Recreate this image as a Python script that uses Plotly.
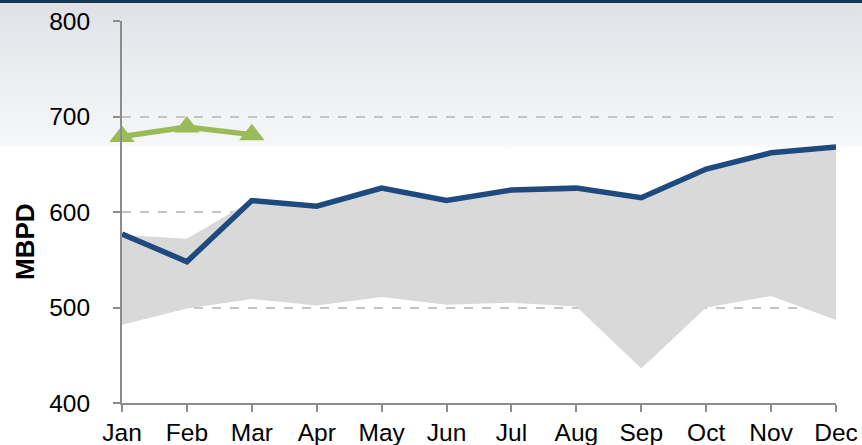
import plotly.graph_objects as go
import urllib.parse

months = ["Jan", "Feb", "Mar", "Apr", "May", "Jun", "Jul", "Aug", "Sep", "Oct", "Nov", "Dec"]
current = [577, 548, 612, 606, 625, 612, 623, 625, 615, 645, 662, 668]
next_year = [679, 689, 681]
range_high = [576, 572, 612, 606, 625, 612, 623, 625, 615, 645, 662, 668]
range_low = [482, 499, 509, 502, 511, 503, 505, 501, 436, 500, 512, 487]
y_ticks = [400, 500, 600, 700, 800]

W, H = 862, 445
L, R, T, B = 122, 26, 21, 42
pw, ph = W - L - R, H - T - B

# background: thin navy strip at top, light grey fading to white
svg = (
    '<svg xmlns="http://www.w3.org/2000/svg" width="862" height="445" preserveAspectRatio="none">'
    '<defs><linearGradient id="g" x1="0" y1="0" x2="0" y2="1">'
    '<stop offset="0" stop-color="#dde1e5"/>'
    '<stop offset="0.15" stop-color="#eaedf0"/>'
    '<stop offset="0.32" stop-color="#f5f6f7"/>'
    '<stop offset="0.335" stop-color="#ffffff"/>'
    '<stop offset="1" stop-color="#ffffff"/>'
    '</linearGradient></defs>'
    '<rect x="0" y="0" width="862" height="445" fill="url(#g)"/>'
    '<rect x="0" y="0" width="862" height="3" fill="#173752"/>'
    '</svg>'
)
bg = "data:image/svg+xml;charset=utf-8," + urllib.parse.quote(svg)

fig = go.Figure()

fig.add_trace(go.Scatter(x=months, y=range_low, mode="lines",
                         line=dict(width=0), hoverinfo="skip", showlegend=False))
fig.add_trace(go.Scatter(x=months, y=range_high, mode="lines", fill="tonexty",
                         fillcolor="#d9d9d9", line=dict(width=0), showlegend=False))
fig.add_trace(go.Scatter(x=months, y=current, mode="lines",
                         line=dict(color="#1f4a80", width=5.5), showlegend=False))
fig.add_trace(go.Scatter(x=months[:len(next_year)], y=next_year, mode="lines+markers",
                         line=dict(color="#9bbb59", width=5.5),
                         marker=dict(symbol="triangle-up", size=22, color="#9bbb59"),
                         cliponaxis=False, showlegend=False))

fig.update_layout(
    width=W, height=H,
    margin=dict(l=L, r=R, t=T, b=B, autoexpand=False),
    paper_bgcolor="white",
    plot_bgcolor="rgba(0,0,0,0)",
    font=dict(family="Liberation Sans, Arial, sans-serif", size=24.5, color="black"),
    images=[dict(source=bg, xref="paper", yref="paper",
                 x=-L / pw, y=1 + T / ph, sizex=W / pw, sizey=H / ph,
                 sizing="stretch", layer="below")],
    annotations=[dict(text="<b>MBPD</b>", textangle=-90, showarrow=False,
                      xref="paper", yref="paper", xanchor="center", yanchor="middle",
                      x=(25 - L) / pw, y=(H - B - 242) / ph,
                      font=dict(size=26, color="black"))],
)

fig.update_xaxes(type="category", range=[0, 11], showgrid=False, automargin=False,
                 showline=True, linecolor="#8c8c8c", linewidth=2,
                 ticks="outside", ticklen=7, tickwidth=2, tickcolor="#8c8c8c")
fig.update_yaxes(range=[400, 800], tickvals=y_ticks, showgrid=True, automargin=False,
                 gridcolor="#c4c4c4", gridwidth=1.5, griddash="dash",
                 zeroline=False, showline=True, linecolor="#8c8c8c", linewidth=2,
                 ticks="outside", ticklen=7, tickwidth=2, tickcolor="#8c8c8c",
                 ticklabelstandoff=18)

# drop the browser's default 8px body margin so the figure sits at the corner
fig.write_html("out.html", config={"displayModeBar": False},
               post_script="document.body.style.margin='0';")
